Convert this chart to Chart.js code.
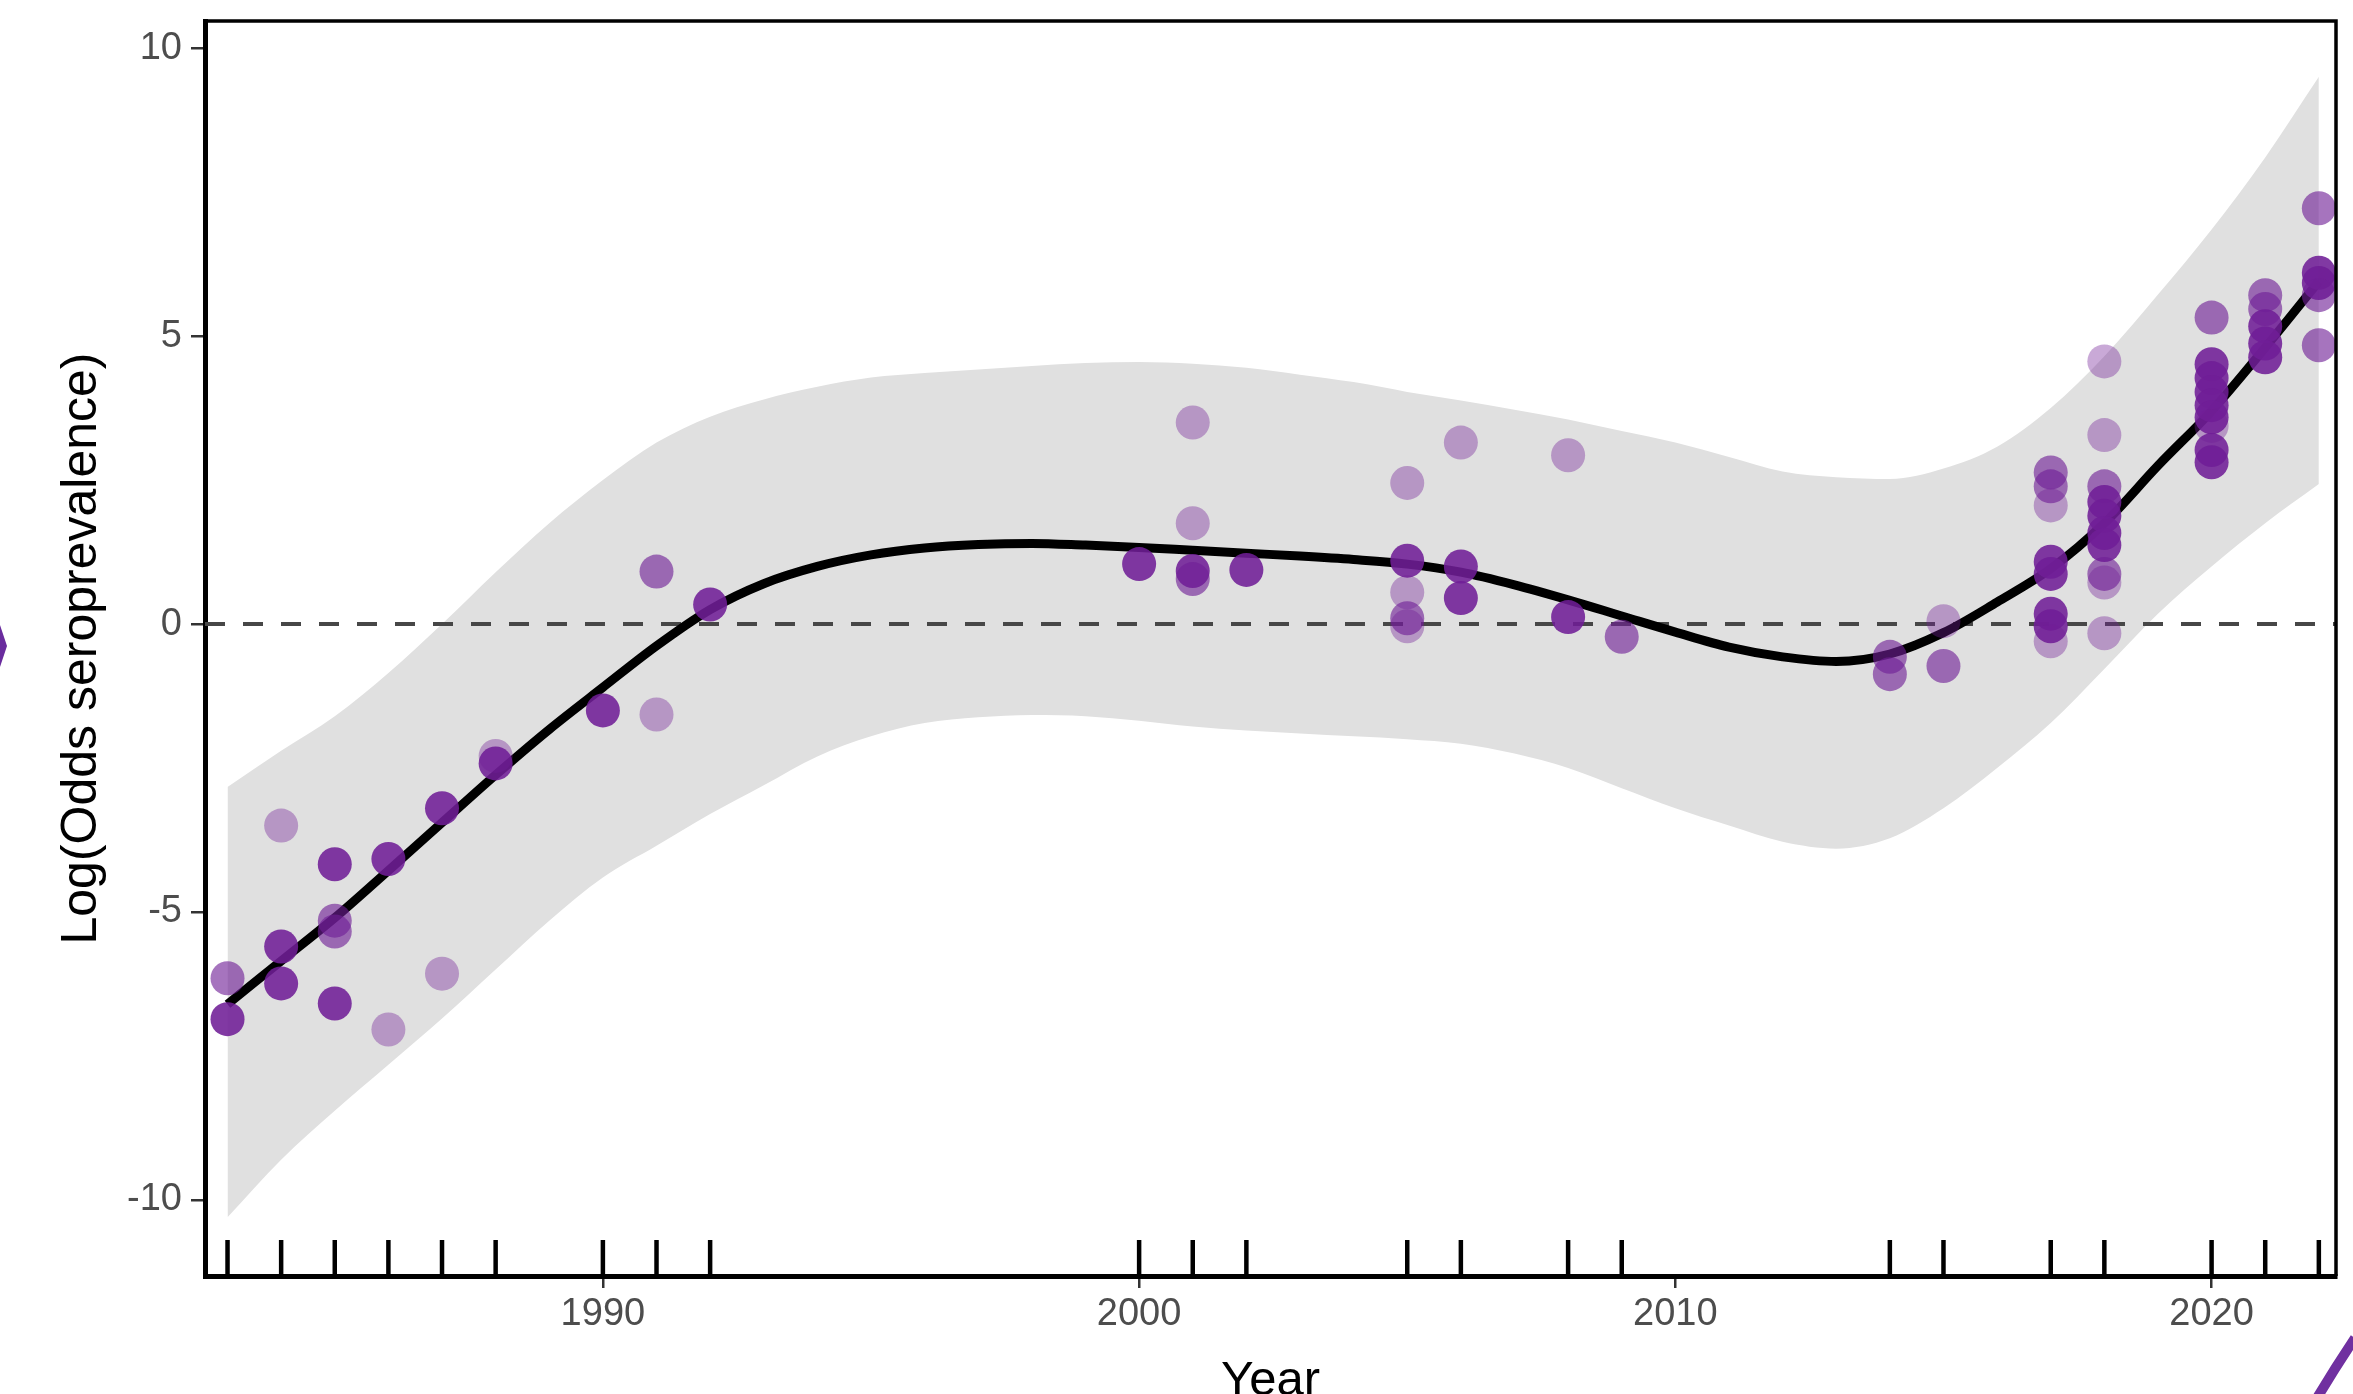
<!DOCTYPE html>
<html>
<head>
<meta charset="utf-8">
<title>Log(Odds seroprevalence) by year</title>
<script src="https://cdn.jsdelivr.net/npm/chart.js@4.4.1/dist/chart.umd.min.js"></script>
<style>
  html, body { margin: 0; padding: 0; background: #ffffff; }
  #wrap { width: 2353px; height: 1394px; position: relative; }
</style>
</head>
<body>
<div id="wrap"><canvas id="seroChart"></canvas></div>
<script>
// observed study estimates (year, log odds, precision class 1 = low .. 3 = high)
const obsYears = [
  1983, 1983,
  1984, 1984, 1984,
  1985, 1985, 1985, 1985,
  1986, 1986,
  1987, 1987,
  1988, 1988,
  1990,
  1991, 1991,
  1992,
  2000,
  2001, 2001, 2001, 2001,
  2002,
  2005, 2005, 2005, 2005, 2005,
  2006, 2006, 2006,
  2008, 2008,
  2009,
  2014, 2014,
  2015, 2015,
  2017, 2017, 2017, 2017, 2017, 2017, 2017, 2017,
  2018, 2018, 2018, 2018, 2018, 2018, 2018, 2018, 2018, 2018,
  2020, 2020, 2020, 2020, 2020, 2020, 2020, 2020, 2020,
  2021, 2021, 2021, 2021, 2021,
  2022, 2022, 2022, 2022, 2022
];
const obsValues = [
  -6.15, -6.86,
  -3.50, -5.60, -6.24,
  -4.17, -5.15, -5.34, -6.59,
  -4.08, -7.04,
  -3.20, -6.07,
  -2.29, -2.42,
  -1.50,
  0.91, -1.57,
  0.34,
  1.04,
  3.50, 1.75, 0.92, 0.78,
  0.94,
  2.45, 1.10, 0.55, 0.10, -0.04,
  3.15, 1.00, 0.45,
  2.93, 0.12,
  -0.22,
  -0.57, -0.87,
  0.05, -0.73,
  2.63, 2.39, 2.06, 1.08, 0.87, 0.18, -0.04, -0.30,
  4.56, 3.28, 2.39, 2.12, 1.88, 1.58, 1.37, 0.87, 0.72, -0.16,
  5.32, 4.51, 4.27, 4.03, 3.80, 3.59, 3.44, 3.02, 2.81,
  5.71, 5.47, 5.17, 4.87, 4.63,
  7.22, 6.10, 5.92, 5.71, 4.84
];
const obsPrecision = [
  2, 3,
  1, 3, 3,
  3, 2, 2, 3,
  3, 1,
  3, 1,
  1, 3,
  3,
  2, 1,
  3,
  3,
  1, 1, 3, 2,
  3,
  1, 3, 1, 2, 1,
  1, 3, 3,
  1, 3,
  2,
  2, 2,
  1, 2,
  2, 2, 1, 3, 3, 3, 3, 1,
  1, 1, 2, 3, 3, 3, 3, 2, 1, 1,
  2, 3, 3, 3, 3, 3, 1, 3, 3,
  2, 2, 3, 3, 3,
  2, 3, 3, 2, 2
];

// smooth fit and its confidence band, read per year
const fitYears = [
  1983, 1984, 1985, 1986, 1987, 1988, 1989, 1990, 1991, 1992,
  1993, 1994, 1995, 1996, 1997, 1998, 1999, 2000, 2001, 2002,
  2003, 2004, 2005, 2006, 2007, 2008, 2009, 2010, 2011, 2012,
  2013, 2014, 2015, 2016, 2017, 2018, 2019, 2020, 2021, 2022
];
const fitValues = [
  -6.60, -5.85, -5.10, -4.28, -3.45, -2.62, -1.83, -1.10, -0.38, 0.25,
  0.70, 1.00, 1.20, 1.32, 1.38, 1.40, 1.37, 1.33, 1.28, 1.23,
  1.18, 1.12, 1.04, 0.90, 0.68, 0.42, 0.14, -0.14, -0.40, -0.57,
  -0.65, -0.52, -0.15, 0.38, 0.96, 1.75, 2.75, 3.70, 4.80, 5.95
];
const fitUpper = [
  -2.83, -2.20, -1.60, -0.85, 0.00, 0.90, 1.75, 2.50, 3.15, 3.60,
  3.90, 4.12, 4.28, 4.36, 4.42, 4.48, 4.53, 4.55, 4.52, 4.45,
  4.33, 4.20, 4.03, 3.88, 3.72, 3.55, 3.35, 3.15, 2.90, 2.65,
  2.55, 2.52, 2.70, 3.08, 3.75, 4.65, 5.72, 6.85, 8.10, 9.50
];
const fitLower = [
  -10.30, -9.30, -8.45, -7.65, -6.85, -6.00, -5.15, -4.40, -3.85, -3.30,
  -2.80, -2.30, -1.95, -1.72, -1.62, -1.58, -1.60, -1.68, -1.78, -1.85,
  -1.90, -1.95, -2.00, -2.08, -2.25, -2.50, -2.85, -3.20, -3.50, -3.78,
  -3.90, -3.72, -3.20, -2.50, -1.72, -0.78, 0.18, 1.00, 1.75, 2.43
];

const xTicks = [1990, 2000, 2010, 2020];
const yTicks = [-10, -5, 0, 5, 10];
const xMin = 1982.58, xMax = 2022.32;
const yMin = -11.32, yMax = 10.47;

const fontName = 'Liberation Sans';
const purple = [112, 30, 150];
const precisionAlpha = { 1: 0.38, 2: 0.62, 3: 0.88 };
const rugYears = [...new Set(obsYears)];

const toXY = (xs, ys) => xs.map((x, i) => ({ x: x, y: ys[i] }));

// dashed zero line, rug, and top/right frame
const panelExtras = {
  id: 'panelExtras',
  beforeDatasetDraw(chart, args) {
    if (args.index !== 2) return;
    const { ctx, chartArea, scales } = chart;
    const y0 = scales.y.getPixelForValue(0);
    ctx.save();
    ctx.strokeStyle = '#474747';
    ctx.lineWidth = 4;
    ctx.setLineDash([20, 18]);
    ctx.beginPath();
    ctx.moveTo(chartArea.left, y0);
    ctx.lineTo(chartArea.right, y0);
    ctx.stroke();
    ctx.restore();
  },
  afterDatasetsDraw(chart) {
    const { ctx, chartArea, scales } = chart;
    ctx.save();
    ctx.strokeStyle = '#000000';
    ctx.lineWidth = 4.5;
    rugYears.forEach(yr => {
      const x = scales.x.getPixelForValue(yr);
      ctx.beginPath();
      ctx.moveTo(x, chartArea.bottom);
      ctx.lineTo(x, chartArea.bottom - 36);
      ctx.stroke();
    });
    ctx.lineWidth = 3.5;
    ctx.beginPath();
    ctx.moveTo(chartArea.left, chartArea.top);
    ctx.lineTo(chartArea.right, chartArea.top);
    ctx.lineTo(chartArea.right, chartArea.bottom);
    ctx.stroke();
    ctx.restore();
  }
};

// slide decorations cut by the picture edge
const slideDecor = {
  id: 'slideDecor',
  afterDraw(chart) {
    const { ctx, width, height } = chart;
    ctx.save();
    ctx.fillStyle = '#6a2c9e';
    ctx.beginPath();
    ctx.moveTo(0, 625);
    ctx.lineTo(7, 646);
    ctx.lineTo(0, 667);
    ctx.closePath();
    ctx.fill();
    ctx.strokeStyle = '#7030a0';
    ctx.lineWidth = 10;
    ctx.beginPath();
    ctx.moveTo(width - 36, height + 4);
    ctx.quadraticCurveTo(width - 18, height - 26, width + 2, height - 56);
    ctx.stroke();
    ctx.restore();
  }
};

new Chart(document.getElementById('seroChart').getContext('2d'), {
  type: 'scatter',
  data: {
    datasets: [{
      type: 'line',
      data: toXY(fitYears, fitUpper),
      borderColor: 'rgba(0,0,0,0)',
      borderWidth: 0,
      pointRadius: 0,
      backgroundColor: '#e0e0e0',
      fill: '+1',
      cubicInterpolationMode: 'monotone',
      order: 4
    }, {
      type: 'line',
      data: toXY(fitYears, fitLower),
      borderColor: 'rgba(0,0,0,0)',
      borderWidth: 0,
      pointRadius: 0,
      fill: false,
      cubicInterpolationMode: 'monotone',
      order: 3
    }, {
      type: 'line',
      data: toXY(fitYears, fitValues),
      borderColor: '#000000',
      borderWidth: 9,
      pointRadius: 0,
      fill: false,
      cubicInterpolationMode: 'monotone',
      order: 2
    }, {
      type: 'scatter',
      data: toXY(obsYears, obsValues),
      backgroundColor: obsPrecision.map(p => `rgba(${purple.join(',')},${precisionAlpha[p]})`),
      borderWidth: 0,
      pointRadius: 17,
      pointHoverRadius: 17,
      clip: false,
      order: 1
    }]
  },
  options: {
    responsive: true,
    maintainAspectRatio: false,
    animation: false,
    events: [],
    layout: { padding: { top: 21, right: 16, left: 0, bottom: 0 } },
    plugins: {
      legend: { display: false },
      tooltip: { enabled: false }
    },
    scales: {
      x: {
        type: 'linear',
        min: xMin,
        max: xMax,
        afterBuildTicks: s => { s.ticks = xTicks.map(v => ({ value: v })); },
        afterFit: s => { s.height = 118; },
        ticks: {
          font: { family: fontName, size: 38 },
          color: '#4d4d4d',
          padding: 4,
          maxRotation: 0,
          autoSkip: false,
          callback: v => String(v)
        },
        grid: { drawOnChartArea: false, drawTicks: true, tickLength: 12, color: '#333333', lineWidth: 2.5 },
        border: { display: true, color: '#000000', width: 5 },
        title: {
          display: true,
          text: 'Year',
          color: '#000000',
          font: { family: fontName, size: 49, lineHeight: 0.5 },
          padding: 0
        }
      },
      y: {
        type: 'linear',
        min: yMin,
        max: yMax,
        afterBuildTicks: s => { s.ticks = yTicks.map(v => ({ value: v })); },
        afterFit: s => { s.width = 205; s.paddingTop = 0; s.paddingBottom = 0; },
        ticks: {
          font: { family: fontName, size: 38 },
          color: '#4d4d4d',
          padding: 9,
          callback: v => String(v)
        },
        grid: { drawOnChartArea: false, drawTicks: true, tickLength: 14, color: '#333333', lineWidth: 2.5 },
        border: { display: true, color: '#000000', width: 5 },
        title: {
          display: true,
          text: 'Log(Odds seroprevalence)',
          color: '#000000',
          font: { family: fontName, size: 50 },
          padding: { top: 52, bottom: 0 }
        }
      }
    }
  },
  plugins: [panelExtras, slideDecor]
});
</script>
</body>
</html>
